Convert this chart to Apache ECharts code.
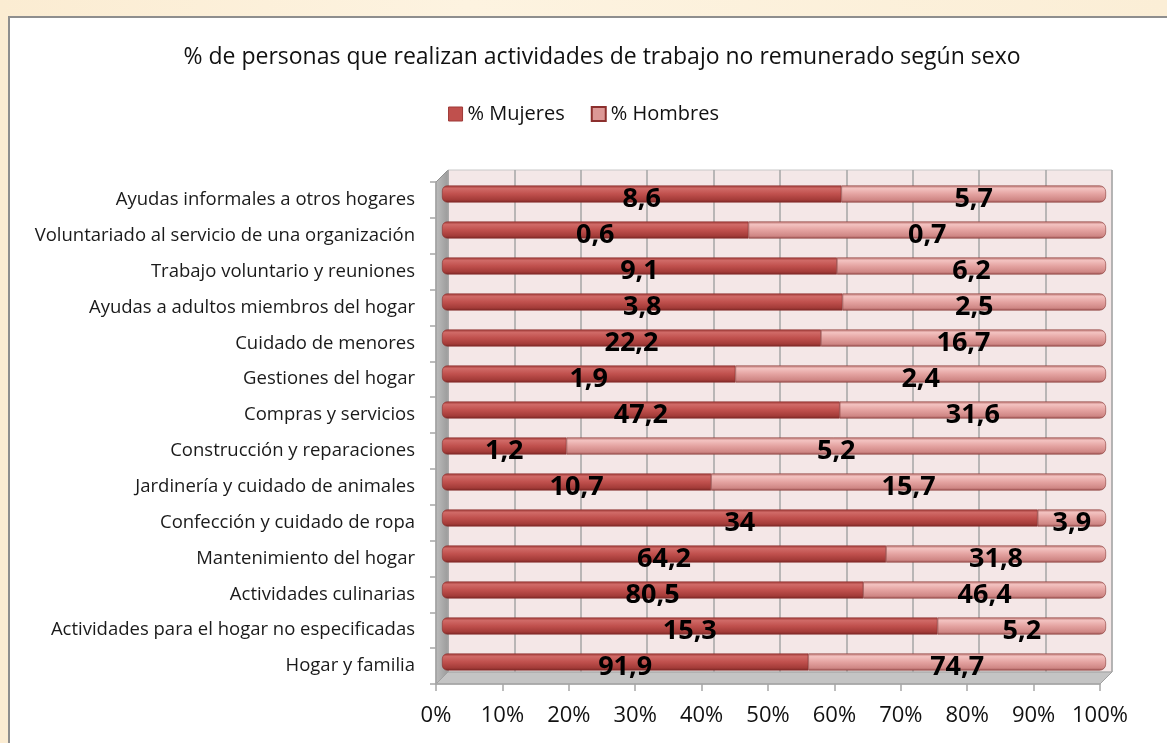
<!DOCTYPE html>
<html>
<head>
<meta charset="utf-8">
<script src="https://cdn.jsdelivr.net/npm/echarts@6/dist/echarts.min.js"></script>
<style>
  html, body { margin: 0; padding: 0; width: 1167px; height: 743px; overflow: hidden; }
  body { background: linear-gradient(90deg, #fbecd2 0%, #fdf3e0 40%, #fbeed6 100%); position: relative; }
  #frame { position: absolute; left: 8px; top: 16px; width: 1180px; height: 760px;
           background: #fff; border-left: 2px solid #8e8e8e; border-top: 2px solid #8e8e8e; }
  #chart { position: absolute; left: 0; top: 0; width: 1167px; height: 743px; }
</style>
</head>
<body>
<div id="frame"></div>
<div id="chart"></div>
<script>
// categorias, de arriba hacia abajo
var categorias = [
  'Ayudas informales a otros hogares',
  'Voluntariado al servicio de una organización',
  'Trabajo voluntario y reuniones',
  'Ayudas a adultos miembros del hogar',
  'Cuidado de menores',
  'Gestiones del hogar',
  'Compras y servicios',
  'Construcción y reparaciones',
  'Jardinería y cuidado de animales',
  'Confección y cuidado de ropa',
  'Mantenimiento del hogar',
  'Actividades culinarias',
  'Actividades para el hogar no especificadas',
  'Hogar y familia'
]
var mujeres = [8.6, 0.6, 9.1, 3.8, 22.2, 1.9, 47.2, 1.2, 10.7, 34, 64.2, 80.5, 15.3, 91.9]
var hombres = [5.7, 0.7, 6.2, 2.5, 16.7, 2.4, 31.6, 5.2, 15.7, 3.9, 31.8, 46.4, 5.2, 74.7]
var ticksX = [0, 10, 20, 30, 40, 50, 60, 70, 80, 90, 100]

// barras al 100%: cada fila se reparte segun su total
var pctMujeres = mujeres.map(function (v, i) { return v / (v + hombres[i]) * 100 })
var pctHombres = hombres.map(function (v, i) { return v / (mujeres[i] + v) * 100 })

function coma(v) { return String(v).replace('.', ',') }

var chart = echarts.init(document.getElementById('chart'))

var font = 'Open Sans'
var gris = '#a6a6a6'

var colorMujeres = new echarts.graphic.LinearGradient(0, 0, 0, 1, [
  {offset: 0, color: '#9e3936'},
  {offset: 0.18, color: '#d06a67'},
  {offset: 0.5, color: '#c0504d'},
  {offset: 0.85, color: '#a33b38'},
  {offset: 1, color: '#772624'}
])
var colorHombres = new echarts.graphic.LinearGradient(0, 0, 0, 1, [
  {offset: 0, color: '#c07a78'},
  {offset: 0.18, color: '#f3c2c0'},
  {offset: 0.5, color: '#e4a3a1'},
  {offset: 0.85, color: '#cf8785'},
  {offset: 1, color: '#9e5553'}
])

var labelStyle = {
  show: true,
  position: 'inside',
  fontFamily: font,
  fontWeight: 'bold',
  fontSize: 27,
  color: '#000',
  offset: [0, 5]
}

var option = {
  backgroundColor: 'transparent',
  animation: false,
  title: {
    text: '% de personas que realizan actividades de trabajo no remunerado según sexo',
    left: 597,
    textAlign: 'center',
    top: 41,
    textStyle: { fontFamily: font, fontSize: 23, fontWeight: 'normal', color: '#111' }
  },
  legend: {
    top: 99,
    left: 'center',
    itemWidth: 14,
    itemHeight: 14,
    itemGap: 26,
    textStyle: { fontFamily: font, fontSize: 20, color: '#111' },
    data: [
      { name: '% Mujeres', icon: 'rect', itemStyle: { color: '#c0504d', borderColor: '#9e3936', borderWidth: 1 } },
      { name: '% Hombres', icon: 'rect', itemStyle: { color: '#dc9896', borderColor: '#8c2f2d', borderWidth: 2 } }
    ]
  },
  graphic: [
    // pared izquierda
    { type: 'polygon', z: 0, shape: { points: [[436, 182], [448, 170], [448, 672], [436, 684]] },
      style: { fill: new echarts.graphic.LinearGradient(0, 0, 1, 0, [
        {offset: 0, color: '#bdbdbd'}, {offset: 1, color: '#9a9a9a'}]), stroke: '#909090', lineWidth: 1 } },
    // suelo
    { type: 'polygon', z: 0, shape: { points: [[436, 684], [448, 672], [1112, 672], [1100, 684]] },
      style: { fill: '#c4c4c4', stroke: '#a0a0a0', lineWidth: 1 } }
  ],
  grid: [
    // pared del fondo
    { left: 448, right: 55, top: 170, bottom: 71, show: true, backgroundColor: '#f4e7e7', borderColor: '#c8c8c8', borderWidth: 1, z: 0 },
    // barras
    { left: 442, right: 61, top: 176, bottom: 63 },
    // eje frontal
    { left: 436, right: 67, top: 182, bottom: 59 }
  ],
  xAxis: [
    { gridIndex: 0, type: 'value', min: 0, max: 100, interval: 10,
      axisLabel: { show: false }, axisLine: { show: false }, axisTick: { show: false },
      splitLine: { lineStyle: { color: gris, width: 1.5 } } },
    { gridIndex: 1, type: 'value', min: 0, max: 100, show: false },
    { gridIndex: 2, type: 'value', min: 0, max: 100, interval: 10,
      axisLine: { show: true, lineStyle: { color: gris, width: 1.5 } },
      axisTick: { show: true, length: 7, lineStyle: { color: gris, width: 1.5 } },
      splitLine: { show: false },
      axisLabel: { margin: 21, fontFamily: font, fontSize: 22, color: '#111',
        formatter: function (v) { return ticksX.indexOf(v) >= 0 ? v + '%' : '' } } }
  ],
  yAxis: [
    { gridIndex: 0, type: 'category', data: categorias, inverse: true, show: false },
    { gridIndex: 1, type: 'category', data: categorias, inverse: true, show: false },
    { gridIndex: 2, type: 'category', data: categorias, inverse: true,
      axisLine: { show: true, lineStyle: { color: gris, width: 1.5 } },
      axisTick: { show: true, length: 6, lineStyle: { color: gris, width: 1.5 } },
      axisLabel: { margin: 21, fontFamily: font, fontSize: 18.5, color: '#1a1a1a' } }
  ],
  series: [
    {
      name: '% Mujeres',
      type: 'bar',
      stack: 'total',
      xAxisIndex: 1,
      yAxisIndex: 1,
      barWidth: 17,
      data: pctMujeres,
      itemStyle: { color: colorMujeres, borderColor: '#8a2f2d', borderWidth: 0.6, borderRadius: [5, 0, 0, 5] },
      label: Object.assign({}, labelStyle, { formatter: function (p) { return coma(mujeres[p.dataIndex]) } })
    },
    {
      name: '% Hombres',
      type: 'bar',
      stack: 'total',
      xAxisIndex: 1,
      yAxisIndex: 1,
      barWidth: 17,
      data: pctHombres,
      itemStyle: { color: colorHombres, borderColor: '#8a3a38', borderWidth: 0.6, borderRadius: [0, 6, 6, 0] },
      label: Object.assign({}, labelStyle, { formatter: function (p) { return coma(hombres[p.dataIndex]) } })
    }
  ]
}

chart.setOption(option)
</script>
</body>
</html>
